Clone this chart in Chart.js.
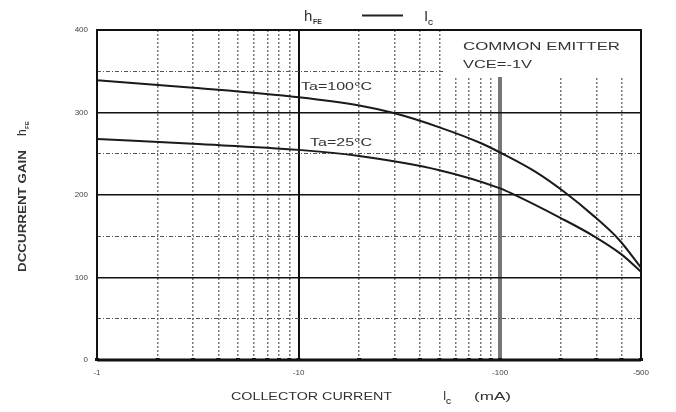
<!DOCTYPE html>
<html>
<head>
<meta charset="utf-8">
<script src="https://cdn.jsdelivr.net/npm/chart.js@4.4.1/dist/chart.umd.min.js"></script>
<style>
  html, body { margin: 0; padding: 0; background: #fff; }
  #wrap { width: 676px; height: 412px; }
</style>
</head>
<body>
<div id="wrap"><canvas id="c" width="676" height="412"></canvas></div>
<script>
// grid / tick positions
const xTicks = [1,2,3,4,5,6,7,8,9,10,20,30,40,50,60,70,80,90,100,200,300,400,500];
const yTicks = [0,50,100,150,200,250,300,350,400];
const xLabels = { 1: '-1', 10: '-10', 100: '-100', 500: '-500' };
const xSolid = [1, 10, 100, 500];

// Ta = 100°C
const ic100  = [1, 3, 10, 20, 30, 50, 80, 100, 150, 210, 290, 390, 500];
const hfe100 = [339, 330, 318.5, 308.5, 299, 282, 263, 251.5, 228, 203, 175, 145.5, 112];
// Ta = 25°C
const ic25  = [1, 3, 10, 20, 50, 100, 116, 200, 290, 400, 500];
const hfe25 = [268, 262, 254.7, 247.2, 230, 208, 201, 172, 150.5, 128, 107];

const FONT = '"Liberation Sans", Arial, sans-serif';

function pts(xs, ys) { return xs.map((x, i) => ({ x: x, y: ys[i] })); }

// draw text stretched to a given width
function fitText(ctx, txt, x, y, w, font) {
  ctx.save();
  ctx.font = font;
  const m = ctx.measureText(txt).width;
  ctx.translate(x, y);
  ctx.scale(w / m, 1);
  ctx.fillText(txt, 0, 0);
  ctx.restore();
}

const decor = {
  id: 'decor',
  beforeDatasetsDraw(chart) {
    const { ctx, chartArea: a } = chart;
    // white box behind the "COMMON EMITTER" note
    ctx.save();
    ctx.fillStyle = '#fff';
    ctx.fillRect(445, a.top + 1, a.right - 446, 46);
    ctx.restore();
  },
  afterDraw(chart) {
    const { ctx, chartArea: a } = chart;
    const xs = chart.scales.x;
    ctx.save();
    // frame
    ctx.strokeStyle = '#111';
    ctx.lineWidth = 2;
    ctx.strokeRect(a.left, a.top, a.right - a.left, a.bottom - a.top);
    ctx.lineWidth = 3;
    ctx.beginPath(); ctx.moveTo(a.left, a.bottom); ctx.lineTo(a.right, a.bottom); ctx.stroke();
    // small marks on the bottom axis
    ctx.fillStyle = '#111';
    xTicks.forEach(v => {
      const px = xs.getPixelForValue(v);
      ctx.fillRect(px - 2, a.bottom - 2, 4, 3);
    });

    ctx.fillStyle = '#333';
    ctx.textBaseline = 'alphabetic';
    // title  hFE —— IC
    ctx.font = '15px ' + FONT;
    ctx.fillText('h', 304, 21);
    ctx.font = 'bold 7px ' + FONT;
    ctx.fillText('FE', 313, 24);
    ctx.strokeStyle = '#222';
    ctx.lineWidth = 2;
    ctx.beginPath(); ctx.moveTo(362, 15.5); ctx.lineTo(403, 15.5); ctx.stroke();
    ctx.font = '15px ' + FONT;
    ctx.fillText('I', 424, 21);
    ctx.font = 'bold 7px ' + FONT;
    ctx.fillText('C', 428, 25);

    // annotations
    fitText(ctx, 'COMMON EMITTER', 463, 50, 157, '11px ' + FONT);
    fitText(ctx, 'VCE=-1V', 463, 68, 69, '11px ' + FONT);
    fitText(ctx, 'Ta=100°C', 301, 90, 71, '11px ' + FONT);
    fitText(ctx, 'Ta=25°C', 310, 146, 62, '11px ' + FONT);

    // x axis title
    fitText(ctx, 'COLLECTOR CURRENT', 231, 400, 161, '11px ' + FONT);
    ctx.font = '12px ' + FONT;
    ctx.fillText('I', 443, 400);
    ctx.font = 'bold 7px ' + FONT;
    ctx.fillText('C', 446, 404);
    fitText(ctx, '(mA)', 474, 400, 37, '11px ' + FONT);

    // y axis title (rotated)
    ctx.save();
    ctx.translate(26, 272);
    ctx.rotate(-Math.PI / 2);
    fitText(ctx, 'DCCURRENT GAIN', 0, 0, 122, 'bold 10px ' + FONT);
    ctx.font = '12px ' + FONT;
    ctx.fillText('h', 136, 0);
    ctx.font = 'bold 6px ' + FONT;
    ctx.fillText('FE', 143, 3);
    ctx.restore();

    ctx.restore();
  }
};

new Chart(document.getElementById('c'), {
  type: 'line',
  data: {
    datasets: [
      { label: 'Ta=100°C', data: pts(ic100, hfe100) },
      { label: 'Ta=25°C', data: pts(ic25, hfe25) }
    ]
  },
  options: {
    responsive: false,
    animation: false,
    events: [],
    layout: { padding: { left: 0, right: 35, top: 30, bottom: 0 } },
    elements: {
      line: { borderColor: '#1a1a1a', borderWidth: 2, cubicInterpolationMode: 'monotone', fill: false },
      point: { radius: 0 }
    },
    plugins: { legend: { display: false }, tooltip: { enabled: false } },
    scales: {
      x: {
        type: 'logarithmic',
        min: 1,
        max: 500,
        afterBuildTicks: s => { s.ticks = xTicks.map(v => ({ value: v })); },
        afterFit: s => { s.height = 52; },
        ticks: {
          autoSkip: false,
          maxRotation: 0,
          padding: 8,
          color: '#444',
          font: { family: FONT, size: 8 },
          callback: v => xLabels[v] || ''
        },
        grid: {
          drawTicks: false,
          color: c => c.tick && c.tick.value === 100 ? '#777' : (xSolid.includes(c.tick && c.tick.value) ? '#111' : '#777'),
          lineWidth: c => {
            const v = c.tick && c.tick.value;
            if (v === 100) return 4;
            if (v === 10) return 2;
            return 1.5;
          }
        },
        border: {
          display: false,
          dash: c => xSolid.includes(c.tick && c.tick.value) ? [] : [2, 2]
        }
      },
      y: {
        min: 0,
        max: 400,
        afterBuildTicks: s => { s.ticks = yTicks.map(v => ({ value: v })); },
        afterFit: s => { s.width = 97; },
        ticks: {
          autoSkip: false,
          padding: 9,
          color: '#444',
          font: { family: FONT, size: 8 },
          callback: v => (v % 100 === 0 ? String(v) : '')
        },
        grid: {
          drawTicks: false,
          color: c => (c.tick && c.tick.value % 100 === 0) ? '#111' : '#555',
          lineWidth: c => (c.tick && c.tick.value % 100 === 0) ? 1.5 : 1
        },
        border: {
          display: false,
          dash: c => (c.tick && c.tick.value % 100 === 0) ? [] : [4, 2, 1, 2]
        }
      }
    }
  },
  plugins: [decor]
});
</script>
</body>
</html>
